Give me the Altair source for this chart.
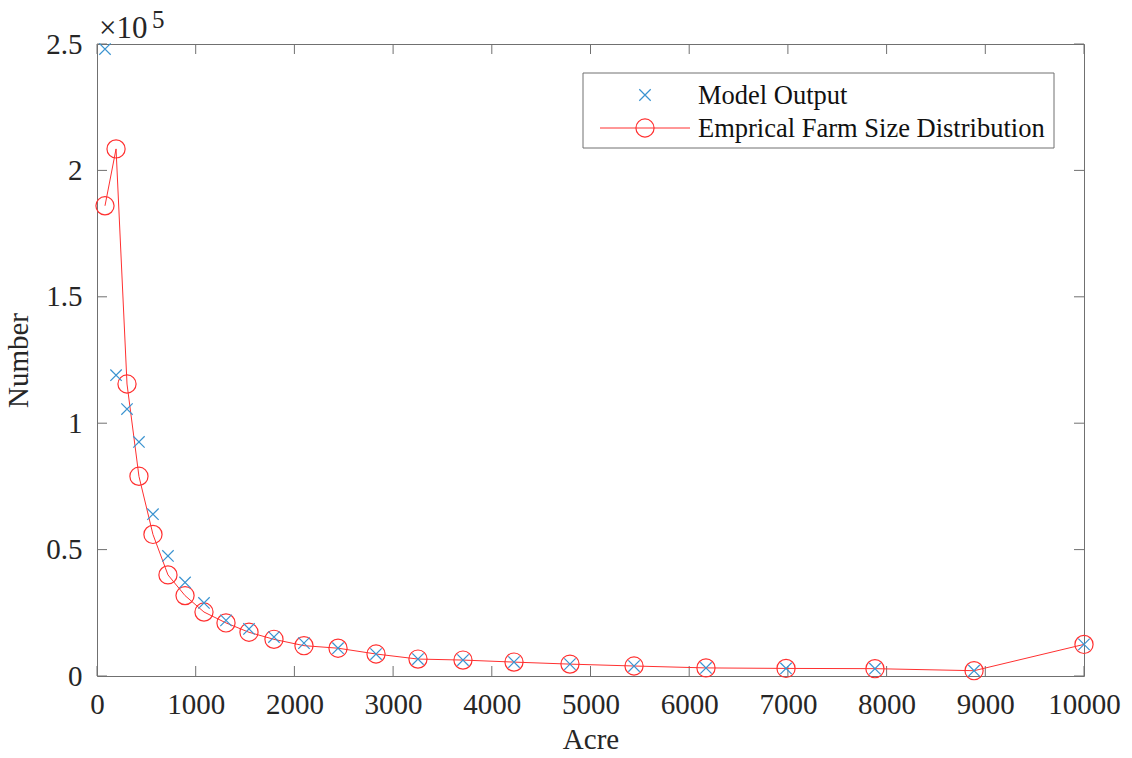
import altair as alt
import pandas as pd

acre = [81, 193, 304, 425, 567, 719, 892, 1084, 1307, 1540, 1793, 2097, 2442, 2827,
        3252, 3708, 4225, 4792, 5441, 6170, 6981, 7882, 8886, 10000]
empirical = [186000, 208500, 115500, 79000, 56000, 40000, 31800, 25300, 21000, 17300,
             14500, 12000, 11000, 8700, 6700, 6300, 5500, 4700, 3950, 3200, 3000, 2900,
             2100, 12500]
model = [248000, 119000, 105600, 92600, 64000, 47500, 37000, 28900, 22000, 18600,
         15400, 13000, 11000, 8700, 6700, 6300, 5500, 4700, 3950, 3200, 3000, 2900,
         2100, 12500]
x_ticks = [0, 1000, 2000, 3000, 4000, 5000, 6000, 7000, 8000, 9000, 10000]
y_ticks = [0, 50000, 100000, 150000, 200000, 250000]
legend_labels = ["Model Output", "Emprical Farm Size Distribution"]

W, H = 987, 632
FONT = "Liberation Serif"
BLUE = "#3a93d0"
RED = "#ff3030"
FRAME = "#707070"
TXT = "#262626"

df = pd.DataFrame({"acre": acre, "emp": empirical, "model": model})
xt = pd.DataFrame({"v": x_ticks})
yt = pd.DataFrame({"v": y_ticks})

xs = alt.Scale(domain=[0, 10000], nice=False, zero=False)
ys = alt.Scale(domain=[0, 250000], nice=False, zero=False)

X = alt.X("acre:Q", scale=xs, axis=alt.Axis(
    title="Acre", values=x_ticks, format="d", tickSize=0, domain=False, grid=False,
    labelFlush=False, labelOverlap=False,
    labelFont=FONT, labelFontSize=29, labelColor=TXT, labelPadding=14,
    titleFont=FONT, titleFontSize=29, titleFontWeight="normal", titleColor=TXT,
    titlePadding=6))

Y_axis = alt.Axis(
    title="Number", values=y_ticks, labelExpr="datum.value/100000", tickSize=0,
    domain=False, grid=False, labelFlush=False, labelOverlap=False,
    labelFont=FONT, labelFontSize=29, labelColor=TXT,
    labelPadding=15, titleFont=FONT, titleFontSize=29, titleFontWeight="normal",
    titleColor=TXT, titlePadding=12)

line = alt.Chart(df).mark_line(color=RED, strokeWidth=1).encode(
    x=X, y=alt.Y("emp:Q", scale=ys, axis=Y_axis))
circles = alt.Chart(df).mark_point(shape="circle", size=330, color=RED, filled=False,
                                   strokeWidth=1.2, opacity=1).encode(
    x=alt.X("acre:Q", scale=xs), y=alt.Y("emp:Q", scale=ys))
crosses = alt.Chart(df).mark_point(shape="M-1,-1L1,1M-1,1L1,-1", size=130, color=BLUE,
                                   filled=False, strokeWidth=1.2, opacity=1).encode(
    x=alt.X("acre:Q", scale=xs), y=alt.Y("model:Q", scale=ys))

tick_kw = dict(color=FRAME, strokeWidth=1)
tb = alt.Chart(xt).mark_rule(**tick_kw).encode(
    x=alt.X("v:Q", scale=xs), y=alt.value(H), y2=alt.value(H - 10))
tt = alt.Chart(xt).mark_rule(**tick_kw).encode(
    x=alt.X("v:Q", scale=xs), y=alt.value(0), y2=alt.value(10))
tl = alt.Chart(yt).mark_rule(**tick_kw).encode(
    y=alt.Y("v:Q", scale=ys), x=alt.value(0), x2=alt.value(10))
tr = alt.Chart(yt).mark_rule(**tick_kw).encode(
    y=alt.Y("v:Q", scale=ys), x=alt.value(W), x2=alt.value(W - 10))

exp_base = alt.Chart(pd.DataFrame({"t": ["\u00d710"]})).mark_text(
    font=FONT, fontSize=31, align="left", baseline="alphabetic", color=TXT).encode(
    text="t:N", x=alt.value(2), y=alt.value(-6))
exp_pow = alt.Chart(pd.DataFrame({"t": ["5"]})).mark_text(
    font=FONT, fontSize=25, align="left", baseline="alphabetic", color=TXT).encode(
    text="t:N", x=alt.value(55), y=alt.value(-16))

# legend
lg_box = alt.Chart(pd.DataFrame({"a": [0]})).mark_rect(
    fill="white", stroke=FRAME, strokeWidth=1).encode(
    x=alt.value(486), x2=alt.value(957), y=alt.value(29), y2=alt.value(104))
lg_text = alt.Chart(pd.DataFrame({"t": legend_labels, "yy": [52, 85]})).mark_text(
    font=FONT, fontSize=26.5, align="left", baseline="middle", color="#111111").encode(
    text="t:N", x=alt.value(601), y=alt.Y("yy:Q", scale=None))
lg_cross = alt.Chart(pd.DataFrame({"a": [0]})).mark_point(
    shape="M-1,-1L1,1M-1,1L1,-1", size=130, color=BLUE, filled=False,
    strokeWidth=1.2, opacity=1).encode(x=alt.value(548), y=alt.value(51))
lg_line = alt.Chart(pd.DataFrame({"a": [0]})).mark_rule(color=RED, strokeWidth=1).encode(
    x=alt.value(503), x2=alt.value(593), y=alt.value(84))
lg_circle = alt.Chart(pd.DataFrame({"a": [0]})).mark_point(
    shape="circle", size=330, color=RED, filled=False, strokeWidth=1.2,
    opacity=1).encode(x=alt.value(548), y=alt.value(84))

chart = alt.layer(
    tb, tt, tl, tr, line, circles, crosses, exp_base, exp_pow,
    lg_box, lg_text, lg_cross, lg_line, lg_circle
).properties(
    width=W, height=H,
    autosize=alt.AutoSizeParams(type="none"),
    padding={"left": 97, "top": 44, "right": 48, "bottom": 82},
    background="white",
).configure_view(stroke=FRAME, strokeWidth=1)

chart.save("out.html", embed_options={"renderer": "svg", "actions": False})
